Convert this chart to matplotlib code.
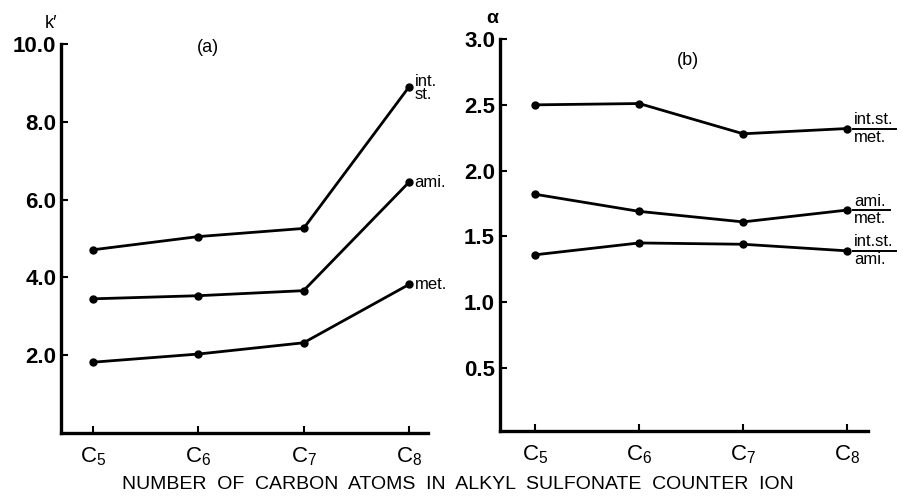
import numpy as np
import matplotlib
matplotlib.use('Agg')
import matplotlib.pyplot as plt
from matplotlib.transforms import offset_copy

plt.rcParams['font.family'] = ['Liberation Sans', 'DejaVu Sans']
plt.rcParams['mathtext.fontset'] = 'custom'
plt.rcParams['mathtext.rm'] = 'Liberation Sans'
plt.rcParams['mathtext.it'] = 'Liberation Sans'

# carbon number of the counter ion
carbons = [5, 6, 7, 8]
tick_labels = [r'$\mathrm{C}_5$', r'$\mathrm{C}_6$', r'$\mathrm{C}_7$', r'$\mathrm{C}_8$']

# (a) capacity factor k'
k_int_st = [4.71, 5.05, 5.26, 8.90]
k_ami = [3.45, 3.53, 3.66, 6.45]
k_met = [1.82, 2.03, 2.32, 3.82]

# (b) separation factor alpha
a_intst_met = [2.50, 2.51, 2.28, 2.32]
a_ami_met = [1.82, 1.69, 1.61, 1.70]
a_intst_ami = [1.36, 1.45, 1.44, 1.39]


def style_axis(ax):
    for side in ['top', 'right']:
        ax.spines[side].set_visible(False)
    for side in ['left', 'bottom']:
        ax.spines[side].set_linewidth(2.4)
    ax.tick_params(direction='in', length=5, width=1.5)
    ax.set_xticks(carbons)
    ax.set_xticklabels(tick_labels, fontsize=16)
    ax.tick_params(axis='x', pad=9)
    for lab in ax.get_yticklabels():
        lab.set_fontweight('bold')
        lab.set_fontsize(16)


def frac_label(fig, ax, x, y, num, den, width):
    # stacked label with a bar between numerator and denominator
    ax.annotate(num, xy=(x, y), xytext=(5, 1), textcoords='offset points',
                ha='left', va='bottom', fontsize=12)
    ax.annotate(den, xy=(x, y), xytext=(5, -1), textcoords='offset points',
                ha='left', va='top', fontsize=12)
    tr = offset_copy(ax.transData, fig=fig, x=4, y=0, units='points')
    tr2 = offset_copy(ax.transData, fig=fig, x=4 + width, y=0, units='points')
    p1 = tr.transform((x, y))
    p2 = tr2.transform((x, y))
    fig.add_artist(plt.Line2D([p1[0], p2[0]], [p1[1], p2[1]], color='black',
                              lw=1.4, transform=None))


def main():
    fig = plt.figure(figsize=(9.04, 4.98), dpi=100)
    ax1 = fig.add_axes([0.0675, 0.1305, 0.406, 0.781])
    ax2 = fig.add_axes([0.553, 0.1345, 0.407, 0.787])

    # Plot (a)
    for vals in [k_int_st, k_ami, k_met]:
        ax1.plot(carbons, vals, color='black', lw=2.0, marker='o', ms=5)
    ax1.set_xlim(4.7, 8.18)
    ax1.set_ylim(0, 10)
    ax1.set_yticks([2, 4, 6, 8, 10])
    ax1.set_yticklabels(['2.0', '4.0', '6.0', '8.0', '10.0'])
    style_axis(ax1)
    ax1.text(-0.01, 1.03, "k\u2032", transform=ax1.transAxes, fontsize=13,
             ha='right', va='bottom')
    ax1.text(0.4, 0.99, '(a)', transform=ax1.transAxes, fontsize=13,
             ha='center', va='center')
    ax1.annotate('int.\nst.', xy=(8, k_int_st[3]), xytext=(4, -1),
                 textcoords='offset points', ha='left', va='center',
                 fontsize=12, linespacing=0.8)
    ax1.annotate('ami.', xy=(8, k_ami[3]), xytext=(4, 0),
                 textcoords='offset points', ha='left', va='center', fontsize=12)
    ax1.annotate('met.', xy=(8, k_met[3]), xytext=(4, 0),
                 textcoords='offset points', ha='left', va='center', fontsize=12)

    # Plot (b)
    for vals in [a_intst_met, a_ami_met, a_intst_ami]:
        ax2.plot(carbons, vals, color='black', lw=2.0, marker='o', ms=5)
    ax2.set_xlim(4.66, 8.2)
    ax2.set_ylim(0.02, 3.0)
    ax2.set_yticks([0.5, 1.0, 1.5, 2.0, 2.5, 3.0])
    ax2.set_yticklabels(['0.5', '1.0', '1.5', '2.0', '2.5', '3.0'])
    style_axis(ax2)
    ax2.text(-0.005, 1.03, '\u03b1', transform=ax2.transAxes, fontsize=14,
             ha='right', va='bottom', fontweight='bold')
    ax2.text(0.51, 0.945, '(b)', transform=ax2.transAxes, fontsize=13,
             ha='center', va='center')
    frac_label(fig, ax2, 8, a_intst_met[3], 'int.st.', 'met.', 31)
    frac_label(fig, ax2, 8, a_ami_met[3], 'ami.', 'met.', 27)
    frac_label(fig, ax2, 8, a_intst_ami[3], 'int.st.', 'ami.', 31)

    fig.text(0.507, 0.028, 'NUMBER  OF  CARBON  ATOMS  IN  ALKYL  SULFONATE  COUNTER  ION',
             ha='center', va='center', fontsize=14)

    plt.savefig('out.png', dpi=100)


if __name__ == "__main__":
    main()
